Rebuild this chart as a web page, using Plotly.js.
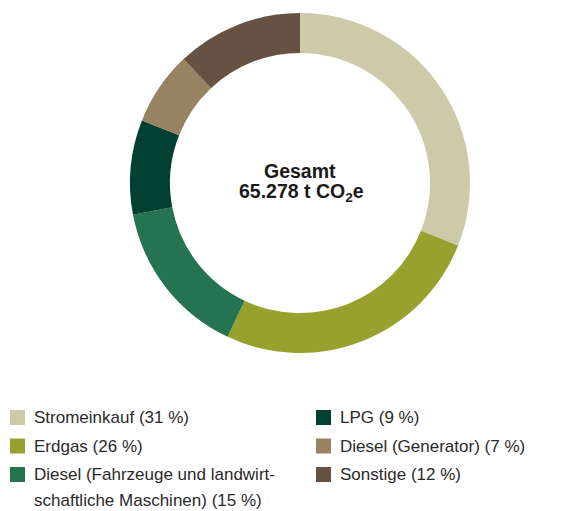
<!DOCTYPE html>
<html>
<head>
<meta charset="utf-8">
<script src="https://cdn.plot.ly/plotly-3.0.1.min.js"></script>
<style>html,body{margin:0;padding:0;background:#fff;}#chart{width:564px;height:511px;}</style>
</head>
<body>
<div id="chart"></div>
<script>
const categories = ["Stromeinkauf", "Erdgas", "Diesel (Fahrzeuge und landwirt-<br>schaftliche Maschinen)", "LPG", "Diesel (Generator)", "Sonstige"];
const shares = [31, 26, 15, 9, 7, 12];
const colors = ["#CEC9A9", "#97A22E", "#257350", "#014030", "#978261", "#655242"];
const centerTitle = "Gesamt";
const centerValue = "65.278 t CO<sub>2</sub>e";

const W = 564, H = 511;
const px = x => x / W;
const py = y => 1 - y / H;

const pieLabels = categories.map(c => c.replace("-<br>", ""));

const trace = {
  type: "pie",
  labels: pieLabels,
  values: shares,
  sort: false,
  direction: "clockwise",
  rotation: 0,
  hole: 0.765,
  marker: { colors: colors, line: { color: "#ffffff", width: 0 } },
  textinfo: "none",
  hoverinfo: "label+percent",
  showlegend: false,
  domain: { x: [px(130), px(470)], y: [py(353), py(13)] }
};

const font = "'Liberation Sans', Arial, Helvetica, sans-serif";
const shapes = [];
const annotations = [
  { x: px(300), y: py(171), xref: "paper", yref: "paper", text: "<b>" + centerTitle + "</b>", showarrow: false, xanchor: "center", yanchor: "middle", font: { family: font, size: 19.5, color: "#1a1a1a" } },
  { x: px(301), y: py(193), xref: "paper", yref: "paper", text: "<b>" + centerValue + "</b>", showarrow: false, xanchor: "center", yanchor: "middle", font: { family: font, size: 19.5, color: "#1a1a1a" } }
];

const colX = [10, 316];
const rowY = [417.5, 446, 474.5];
const lineGap = 26;
categories.forEach((c, i) => {
  const col = i < 3 ? 0 : 1;
  const row = i % 3;
  const x0 = colX[col], yc = rowY[row];
  shapes.push({ type: "rect", xref: "paper", yref: "paper", x0: px(x0), x1: px(x0 + 15), y0: py(yc + 7.5), y1: py(yc - 7.5), fillcolor: colors[i], line: { width: 0 } });
  const lines = (c + " (" + shares[i] + " %)").split("<br>");
  lines.forEach((t, k) => {
    annotations.push({ x: px(x0 + 22), y: py(yc + k * lineGap), xref: "paper", yref: "paper", text: t, showarrow: false, xanchor: "left", yanchor: "middle", font: { family: font, size: 17, color: "#2a2a2a" } });
  });
});

const layout = {
  width: W, height: H,
  margin: { l: 0, r: 0, t: 0, b: 0 },
  paper_bgcolor: "#ffffff",
  plot_bgcolor: "#ffffff",
  shapes: shapes,
  annotations: annotations
};

Plotly.newPlot("chart", [trace], layout, { displayModeBar: false, staticPlot: true });
</script>
</body>
</html>
